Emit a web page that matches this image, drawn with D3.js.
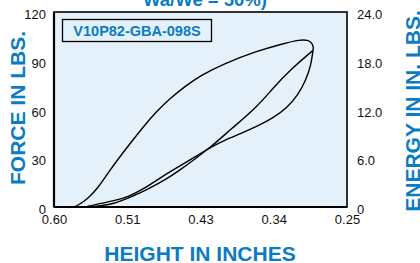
<!DOCTYPE html>
<html>
<head>
<meta charset="utf-8">
<script src="https://cdn.jsdelivr.net/npm/d3@7"></script>
<style>
  html, body { margin: 0; padding: 0; background: #ffffff; }
  svg { display: block; }
</style>
</head>
<body>
<svg id="chart" width="420" height="263"></svg>
<script>
// ---- data ----
const xTickValues = [0.60, 0.5125, 0.425, 0.3375, 0.25];
const xTickLabels = ["0.60", "0.51", "0.43", "0.34", "0.25"];
const forceTicks = [0, 30, 60, 90, 120];
const forceTickLabels = ["0", "30", "60", "90", "120"];
const energyTicks = [0, 6, 12, 18, 24];
const energyTickLabels = ["0", "6.0", "12.0", "18.0", "24.0"];

// force while compressing (height, lbs)
const forceCompression = [
  [0.5761, 0], [0.5713, 1.0], [0.5594, 5.2], [0.5474, 11.7], [0.5331, 22.8],
  [0.5152, 35.1], [0.4937, 49.2], [0.4770, 59.1], [0.4614, 66.8], [0.4435, 74.2],
  [0.4256, 80.8], [0.3981, 88.0], [0.3575, 96.0], [0.3265, 100.5], [0.3062, 103.0],
  [0.2966, 102.8], [0.2915, 100.9], [0.2900, 98.0], [0.2906, 96.4]
];
// force while extending (height, lbs)
const forceExtension = [
  [0.2906, 96.4], [0.3181, 84.3], [0.3384, 73.2], [0.3575, 61.5], [0.3898, 47.4],
  [0.4113, 37.5], [0.4316, 29.5], [0.4495, 22.8], [0.4674, 16.6], [0.4853, 11.7],
  [0.4997, 8.0], [0.5116, 5.5], [0.5271, 2.2], [0.5451, 0.6], [0.5570, 0]
];
// energy (height, in. lbs)
const energy = [
  [0.5630, 0], [0.5570, 0.12], [0.5451, 0.43], [0.5271, 0.80], [0.5116, 1.23],
  [0.4913, 2.34], [0.4734, 3.57], [0.4579, 4.55], [0.4316, 6.15], [0.4113, 7.45],
  [0.3957, 8.25], [0.3778, 9.00], [0.3563, 9.97], [0.3384, 10.95], [0.3217, 12.18],
  [0.3085, 13.78], [0.2990, 15.63], [0.2930, 17.48], [0.2906, 19.28]
];
const modelLabel = "V10P82-GBA-098S";
const titleText = "Wa/We = 50%)";

// ---- layout ----
const blue = "#0a7cc4";
const plotBg = "#e5f1fa";
const L = 54, R = 347, T = 12, B = 207;

const svg = d3.select("#chart");
const x = d3.scaleLinear().domain([0.60, 0.25]).range([L, R]);
const yF = d3.scaleLinear().domain([0, 120]).range([B, T]);
const yE = d3.scaleLinear().domain([0, 24]).range([B, T]);

// plot background
svg.append("rect").attr("x", L).attr("y", T).attr("width", R - L).attr("height", B - T)
  .attr("fill", plotBg);

// title (clipped at top)
svg.append("text").attr("x", 205).attr("y", 6).attr("text-anchor", "middle")
  .attr("font-family", "Liberation Sans, Arial, sans-serif").attr("font-weight", "bold")
  .attr("font-size", 18.5).attr("fill", blue).text(titleText);

// legend box
svg.append("rect").attr("x", 62.5).attr("y", 19.5).attr("width", 149).attr("height", 22)
  .attr("fill", plotBg).attr("stroke", "#000").attr("stroke-width", 1.3);
svg.append("text").attr("x", 137).attr("y", 36).attr("text-anchor", "middle")
  .attr("font-family", "Liberation Sans, Arial, sans-serif").attr("font-weight", "bold")
  .attr("font-size", 14.5).attr("fill", blue).text(modelLabel);

// curves
const lineF = d3.line().x(d => x(d[0])).y(d => yF(d[1])).curve(d3.curveBasis);
const lineE = d3.line().x(d => x(d[0])).y(d => yE(d[1])).curve(d3.curveBasis);
const curveG = svg.append("g").attr("fill", "none").attr("stroke", "#000").attr("stroke-width", 1.4)
  .attr("stroke-linejoin", "round");
curveG.append("path").attr("d", lineF(forceCompression));
curveG.append("path").attr("d", lineF(forceExtension));
curveG.append("path").attr("d", lineE(energy));

// frame
svg.append("rect").attr("x", L).attr("y", T).attr("width", R - L).attr("height", B - T)
  .attr("fill", "none").attr("stroke", "#000").attr("stroke-width", 1.6);
svg.append("line").attr("x1", L).attr("x2", L).attr("y1", T).attr("y2", B)
  .attr("stroke", "#000").attr("stroke-width", 2.2);
svg.append("line").attr("x1", L).attr("x2", R).attr("y1", B).attr("y2", B)
  .attr("stroke", "#000").attr("stroke-width", 2.2);

// axes
const tickFont = g => g.selectAll("text")
  .attr("font-family", "Liberation Sans, Arial, sans-serif").attr("font-size", 13).attr("fill", "#111");

const xAxis = d3.axisBottom(x).tickValues(xTickValues).tickSize(0).tickPadding(8)
  .tickFormat((d, i) => xTickLabels[i]);
svg.append("g").attr("transform", `translate(0,${B})`).call(xAxis)
  .call(g => g.select(".domain").remove()).call(tickFont);

const yAxisL = d3.axisLeft(yF).tickValues(forceTicks).tickSize(0).tickPadding(8)
  .tickFormat((d, i) => forceTickLabels[i]);
svg.append("g").attr("transform", `translate(${L},0)`).call(yAxisL)
  .call(g => g.select(".domain").remove()).call(tickFont)
  .call(g => g.selectAll("text").attr("dy", "0.5em"));

const yAxisR = d3.axisRight(yE).tickValues(energyTicks).tickSize(0).tickPadding(10)
  .tickFormat((d, i) => energyTickLabels[i]);
svg.append("g").attr("transform", `translate(${R},0)`).call(yAxisR)
  .call(g => g.select(".domain").remove()).call(tickFont)
  .call(g => g.selectAll("text").attr("dy", "0.5em"));

// axis titles
const titleStyle = sel => sel.attr("font-family", "Liberation Sans, Arial, sans-serif")
  .attr("font-weight", "bold").attr("font-size", 21).attr("fill", blue).attr("text-anchor", "middle");
svg.append("text").attr("x", 200).attr("y", 261).call(titleStyle).text("HEIGHT IN INCHES");
svg.append("text").attr("transform", "translate(25,108) rotate(-90)").call(titleStyle).text("FORCE IN LBS.");
svg.append("text").attr("transform", "translate(420,111) rotate(-90)").call(titleStyle).text("ENERGY IN IN. LBS.");
</script>
</body>
</html>
